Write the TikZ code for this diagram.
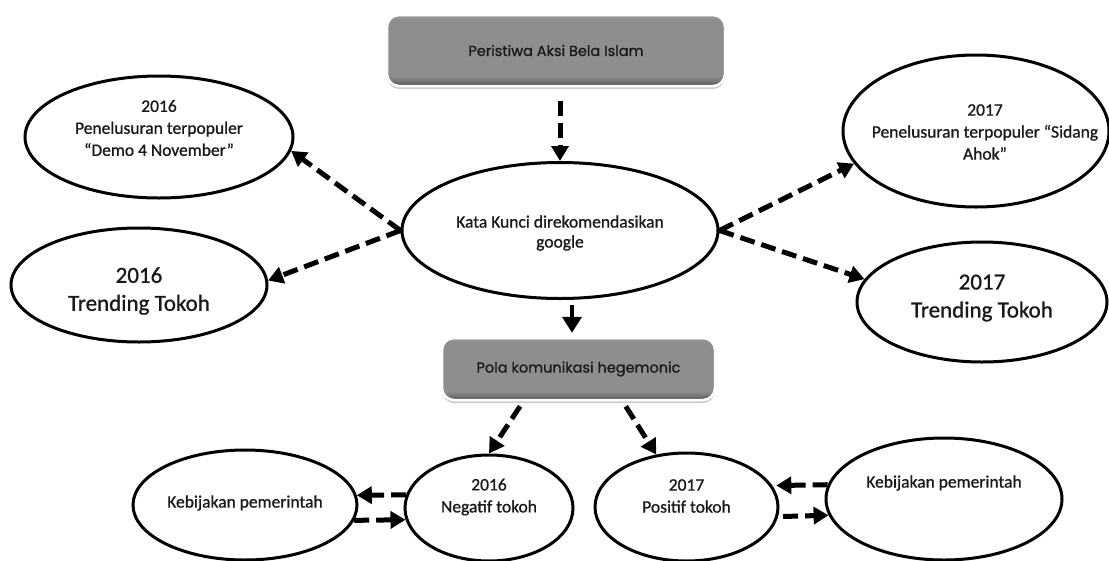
\documentclass[tikz,border=0pt]{standalone}
\usepackage{fontspec}
\setmainfont{Carlito}
\newfontfamily\boldish[FakeBold=0.9]{Carlito}
\newfontfamily\boxfont[FakeBold=0.9]{Poppins}
\usetikzlibrary{shapes.geometric,arrows.meta,shadows,calc}
\definecolor{bxdk}{HTML}{454545}
\definecolor{bxmd}{HTML}{8E8E8E}
\definecolor{bxlt}{HTML}{A2A2A2}
\pgfdeclareverticalshading{boxshade}{100bp}{color(0bp)=(bxdk); color(25bp)=(bxdk); color(28bp)=(bxmd!60!bxdk); color(32bp)=(bxmd); color(72bp)=(bxmd); color(75bp)=(bxlt); color(100bp)=(bxlt)}
\begin{document}
\begin{tikzpicture}[x=1pt,y=-1pt,
  ell/.style={ellipse, draw=black, line width=3pt, inner sep=0pt, fill=white},
  hbox/.style={rounded corners=12pt, draw=white, line width=2.5pt, shading=boxshade,
    drop shadow={shadow xshift=0pt, shadow yshift=-3pt, fill=black, opacity=0.2},
    font=\boxfont\fontsize{14.5}{16}\selectfont, text=black!90, inner sep=0pt},
  darr/.style={line width=5pt, dash pattern=on 15pt off 7pt, -{Triangle[length=15pt,width=17pt]}},
  sarr/.style={line width=4pt, -{Triangle[length=16pt,width=19pt]}},
  txt/.style={align=center, font=\boldish\fontsize{17.5}{22}\selectfont, text=black!90},
  big/.style={align=center, font=\boldish\fontsize{23}{28}\selectfont, text=black!90},
]
\fill[white] (0,0) rectangle (1109,560);
\useasboundingbox (0,0) rectangle (1109,560);

% boxes
\node[hbox, minimum width=338pt, minimum height=71pt] (peristiwa) at (556,50.5) {\raisebox{-3pt}{Peristiwa Aksi Bela Islam}};
\node[hbox, minimum width=273pt, minimum height=62pt] (pola) at (578.5,369) {Pola komunikasi hegemonic};

% ellipses
\node[ell, minimum width=316pt, minimum height=136pt] (kata) at (560,230.5) {};
\node[txt, font=\boldish\fontsize{17.5}{20}\selectfont] (katat) at (560,233) {Kata Kunci direkomendasikan\\google};

\node[ell, minimum width=268pt, minimum height=122pt] (d16) at (159,137) {};
\node[txt] (d16t) at (159,128) {2016\\Penelusuran terpopuler\\“Demo 4 November”};

\node[ell, minimum width=256pt, minimum height=114pt] (trend16) at (139,285) {};
\node[big] (trend16t) at (139,291) {2016\\Trending Tokoh};

\node[ell, minimum width=266pt, minimum height=152pt] (p17) at (976,131) {};
\node[txt] (p17t) at (985,132) {2017\\Penelusuran terpopuler “Sidang\\Ahok”};

\node[ell, minimum width=250pt, minimum height=120pt] (trend17) at (982,302) {};
\node[big] (trend17t) at (982,298) {2017\\Trending Tokoh};

\node[ell, minimum width=224pt, minimum height=110pt] (kebL) at (245,505) {};
\node[txt] (kebLt) at (245,503) {Kebijakan pemerintah};

\node[ell, minimum width=168pt, minimum height=106pt] (neg) at (489,508) {};
\node[txt] (negt) at (489,497) {2016\\Negatif tokoh};

\node[ell, minimum width=183pt, minimum height=108pt] (pos) at (686.5,507) {};
\node[txt] (post) at (686.5,496) {2017\\Positif tokoh};

\node[ell, minimum width=236pt, minimum height=122pt] (kebR) at (944,499) {};
\node[txt] (kebRt) at (944,483) {Kebijakan pemerintah};

% connectors
\draw[darr, shorten <=14pt] (kata.north |- peristiwa.south) -- (kata.north);
\draw[sarr, shorten <=5pt, shorten >=4pt] ([xshift=12pt]kata.south) -- ([xshift=12pt]kata.south |- pola.north);

\draw[darr] (kata.west) -- (d16.-6);
\draw[darr] (kata.west) -- (trend16.2);
\draw[darr] (kata.east) -- (p17.195);
\draw[darr] (kata.east) -- (trend17.169);

\draw[darr, shorten <=6pt] ($(pola.south west)!0.30!(pola.south east)$) -- (neg.north);
\draw[darr, shorten <=6pt] ($(pola.south west)!0.66!(pola.south east)$) -- (pos.120);

\draw[darr] (neg.171) -- (kebL.5);
\draw[darr] (kebL.-8) -- (neg.188);
\draw[darr, shorten >=4pt] (kebR.173) -- (pos.14);
\draw[darr, shorten <=5pt] (pos.-6) -- (kebR.188);
\end{tikzpicture}
\end{document}
